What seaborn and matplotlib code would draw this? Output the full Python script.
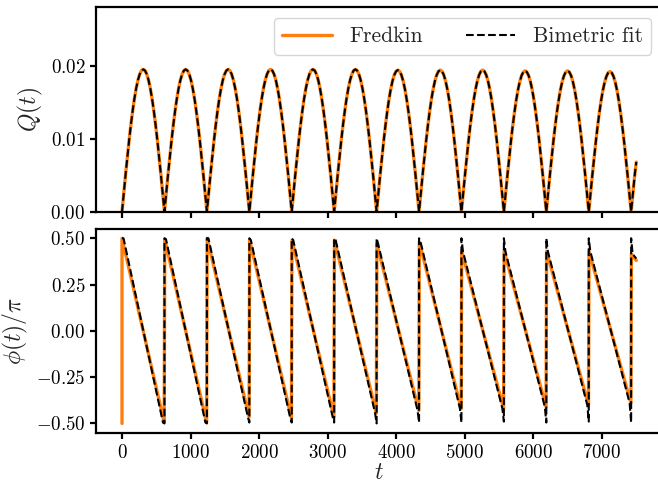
import numpy as np
import pandas as pd
import matplotlib
matplotlib.use("Agg")
import matplotlib.pyplot as plt
import seaborn as sns
from matplotlib.ticker import FuncFormatter, MultipleLocator

# Times at which Q(t) returns to zero (one oscillation per interval)
t_zero = [0, 619, 1238, 1857, 2475, 3094, 3713, 4332, 4950, 5569, 6188, 6807, 7425]
t_end = 7500

# Peak height of each arch of Q(t)
q_peak = [0.0195, 0.0195, 0.0195, 0.0195, 0.0195, 0.0195,
          0.0194, 0.0194, 0.0194, 0.0193, 0.0193, 0.0192]
# Shape of one arch, relative to its peak, sampled at 25 evenly spaced points
arch_shape = [0.0, 0.1305, 0.2588, 0.3827, 0.5, 0.6088, 0.7071, 0.7934, 0.866,
              0.9239, 0.9659, 0.9914, 1.0, 0.9914, 0.9659, 0.9239, 0.866, 0.7934,
              0.7071, 0.6088, 0.5, 0.3827, 0.2588, 0.1305, 0.0]
# Final, unfinished arch
q_tail_t = [7425, 7451, 7477, 7500]
q_tail = [0.0, 0.0025, 0.0050, 0.0068]

# Phase phi/pi: value just after each jump and just before the next one
phi_top_fredkin = [0.5, 0.495, 0.5, 0.49, 0.49, 0.49, 0.47, 0.48, 0.43, 0.43, 0.43, 0.43, 0.415]
phi_bottom_fredkin = [-0.495, -0.495, -0.465, -0.47, -0.465, -0.445,
                      -0.43, -0.42, -0.42, -0.41, -0.40, -0.39]
phi_top_fit = [0.5] * 13
phi_bottom_fit = [-0.5, -0.5, -0.495, -0.495, -0.495, -0.5,
                  -0.495, -0.495, -0.49, -0.495, -0.49, -0.495]
phi_end_fredkin = 0.38
phi_end_fit = 0.39

# ---------- assemble the curves ----------
q_t, q_v = [], []
for k in range(len(q_peak)):
    t0, t1 = t_zero[k], t_zero[k + 1]
    n = len(arch_shape)
    for i, s in enumerate(arch_shape):
        if k > 0 and i == 0:
            continue
        q_t.append(t0 + (t1 - t0) * i / (n - 1))
        q_v.append(q_peak[k] * s)
q_t += q_tail_t[1:]
q_v += q_tail[1:]
q_df = pd.DataFrame({"t": q_t, "Q": q_v})

# Fredkin phase: vertical start, then sawtooth
pf_t, pf_v = [0, 0], [-0.5, phi_top_fredkin[0]]
for k in range(1, 13):
    pf_t += [t_zero[k] - 4, t_zero[k] + 4]
    pf_v += [phi_bottom_fredkin[k - 1], phi_top_fredkin[k]]
pf_t.append(t_end)
pf_v.append(phi_end_fredkin)
pf_df = pd.DataFrame({"t": pf_t, "phi": pf_v})

# Fit phase: follows the sawtooth but reaches +/-0.5 at each jump
d = 22
pb_t, pb_v = [0], [phi_top_fit[0]]
for k in range(1, 13):
    pb_t += [t_zero[k - 1] + d, t_zero[k] - d, t_zero[k], t_zero[k]]
    pb_v += [phi_top_fredkin[k - 1], phi_bottom_fredkin[k - 1],
             phi_bottom_fit[k - 1], phi_top_fit[k]]
pb_t += [t_zero[12] + d, t_end]
pb_v += [phi_top_fredkin[12], phi_end_fit]
pb_df = pd.DataFrame({"t": pb_t, "phi": pb_v})

# ---------- style ----------
sns.set_style("ticks")
plt.rcParams.update({
    "font.family": "serif",
    "font.serif": ["cmr10", "DejaVu Serif"],
    "mathtext.fontset": "cm",
    "axes.unicode_minus": False,
    "axes.formatter.use_mathtext": True,
    "axes.edgecolor": "black",
    "axes.linewidth": 1.6,
    "xtick.major.width": 1.6,
    "ytick.major.width": 1.6,
    "xtick.major.size": 4.5,
    "ytick.major.size": 4.5,
    "xtick.color": "black",
    "ytick.color": "black",
    "xtick.labelsize": 13.6,
    "ytick.labelsize": 13.6,
})

orange = "#ff7f0e"
W, H = 658, 483
fig = plt.figure(figsize=(W / 100, H / 100), dpi=100)
ax_q = fig.add_axes([96.3 / W, 1 - 211.7 / H, (662 - 96.3) / W, 204.4 / H])
ax_p = fig.add_axes([96.3 / W, 1 - 432.7 / H, (662 - 96.3) / W, 203.7 / H], sharex=ax_q)

sns.lineplot(data=q_df, x="t", y="Q", ax=ax_q, color=orange, lw=2.4,
             sort=False, estimator=None, label="Fredkin")
sns.lineplot(data=q_df, x="t", y="Q", ax=ax_q, color="black", lw=1.5,
             linestyle="--", sort=False, estimator=None, label="Bimetric fit")
sns.lineplot(data=pf_df, x="t", y="phi", ax=ax_p, color=orange, lw=2.4,
             sort=False, estimator=None)
sns.lineplot(data=pb_df, x="t", y="phi", ax=ax_p, color="black", lw=1.5,
             linestyle="--", sort=False, estimator=None)

ax_q.set_xlim(-375, 7875)
ax_q.set_ylim(0, 0.028)
ax_p.set_ylim(-0.55, 0.55)

ax_q.yaxis.set_major_locator(MultipleLocator(0.01))
ax_p.yaxis.set_major_locator(MultipleLocator(0.25))
ax_p.xaxis.set_major_locator(MultipleLocator(1000))
ax_q.yaxis.set_major_formatter(FuncFormatter(lambda v, p: f"${v:.2f}$"))
ax_p.yaxis.set_major_formatter(
    FuncFormatter(lambda v, p: f"${v:.2f}$" if abs(v) > 1e-9 else "$0.00$"))
ax_p.xaxis.set_major_formatter(FuncFormatter(lambda v, p: f"${v:.0f}$"))
ax_q.tick_params(axis="x", labelbottom=False)

ax_q.set_xlabel("")
ax_q.set_ylabel(r"$Q(t)$", fontsize=17)
ax_p.set_ylabel(r"$\phi(t)/\pi$", fontsize=17)
ax_p.set_xlabel(r"$t$", fontsize=17, labelpad=0)

for ax in (ax_q, ax_p):
    for s in ax.spines.values():
        s.set_visible(True)
        s.set_linewidth(1.6)

ax_q.legend(loc="upper right", ncol=2, fontsize=15.5, handlelength=2.3,
            frameon=True, fancybox=True, edgecolor="0.8", framealpha=0.8)

fig.savefig("out.png", dpi=100)
